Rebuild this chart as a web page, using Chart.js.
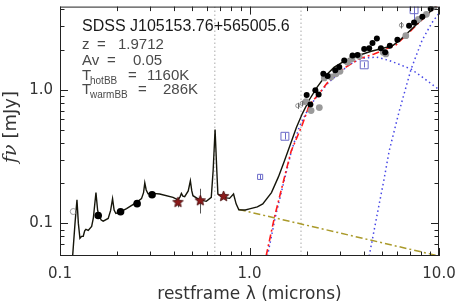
<!DOCTYPE html>
<html>
<head>
<meta charset="utf-8">
<script src="https://cdn.jsdelivr.net/npm/chart.js@4.4.1/dist/chart.umd.min.js"></script>
<style>
  html, body { margin: 0; padding: 0; background: #fff; }
  #wrap { width: 458px; height: 305px; }
</style>
</head>
<body>
<div id="wrap"><canvas id="sed"></canvas></div>
<script>
// ===== values (restframe microns, mJy) =====

// total model (quasar template + power law + hot/warm blackbodies)
const specLam = [0.1166,0.1200,0.1229,0.1250,0.1274,0.1300,0.1326,0.1350,0.1370,0.1409,0.1469,0.1500,0.1548,0.1580,0.1605,0.1650,0.1690,0.1796,0.1850,0.1894,0.1930,0.1971,0.2069,0.2245,0.2534,0.2692,0.2760,0.2802,0.2850,0.2916,0.3098,0.3360,0.3948,0.4194,0.4300,0.4372,0.4450,0.4550,0.4750,0.4875,0.4960,0.5031,0.5454,0.5916,0.6285,0.6430,0.6582,0.6720,0.6811,0.7235,0.7848,0.8238,0.8500,0.8785,0.95,1.0,1.1,1.175,1.306,1.421,1.528,1.644,1.768,1.901,2.069,2.280,2.512,2.802,3.228,3.793,4.387,5.074,5.727,6.285,6.952,7.661,8.647,9.643];
const specFlux = [0.057,0.100,0.150,0.100,0.0774,0.0800,0.0801,0.0880,0.0903,0.0887,0.0950,0.110,0.1705,0.125,0.1147,0.106,0.104,0.1089,0.125,0.1532,0.126,0.1186,0.1213,0.1292,0.1438,0.1532,0.170,0.2012,0.178,0.1668,0.1677,0.1660,0.1566,0.1498,0.158,0.1677,0.160,0.1585,0.175,0.2082,0.175,0.1612,0.1498,0.1463,0.1566,0.250,0.5055,0.250,0.1660,0.1566,0.1540,0.1660,0.140,0.1263,0.126,0.1285,0.133,0.140,0.170,0.223,0.293,0.391,0.523,0.664,0.843,1.053,1.270,1.479,1.668,1.816,1.945,2.047,2.154,2.387,2.735,3.109,3.655,4.263];

// power law (olive dash-dot)
const plawLam = [0.8785, 10.0];
const plawFlux = [0.127, 0.057];

// hot + warm dust (red dash-dot)
const dustLam = [1.224,1.354,1.497,1.658,1.897,2.069,2.320,2.637,3.228,3.793,4.549,5.244,5.917,6.680,7.540,8.510,9.640,10.0];
const dustFlux = [0.057,0.111,0.197,0.347,0.545,0.770,0.930,1.180,1.480,1.706,1.857,2.022,2.166,2.543,3.016,3.575,4.190,4.40];

// hot blackbody (blue dotted)
const hotLam = [1.244,1.371,1.510,1.663,1.833,2.069,2.336,2.637,2.976,3.360,3.933,4.661,5.454,6.387,7.124,8.137,9.880,10.0];
const hotFlux = [0.057,0.1127,0.198,0.347,0.530,0.750,0.940,1.150,1.330,1.550,1.720,1.760,1.660,1.520,1.430,1.250,1.017,1.000];

// warm blackbody (blue dotted)
const warmLam = [4.281,4.718,5.134,5.454,6.158,7.124,8.137,9.188,9.880,10.0];
const warmFlux = [0.057,0.1166,0.2154,0.347,0.687,1.431,2.344,3.190,3.655,3.70];

// photometry
const uvLam = [0.1591,0.2087,0.2552,0.3061];
const uvFlux = [0.1147,0.1221,0.1406,0.164];

const irLam = [2.003,2.095,2.226,2.316,2.452,2.583,2.835,2.976,3.162,3.497,3.715,4.03,4.281,4.456,4.70,4.934,5.197,5.502,6.032,6.952,7.386,8.166,9.04];
const irFlux = [0.913,0.778,0.995,0.923,1.320,1.270,1.399,1.480,1.660,1.807,1.826,2.022,2.047,2.240,2.428,2.047,1.912,2.143,2.374,3.016,3.19,3.532,4.05];

const grayLam = [1.988,2.113,2.336,2.482,2.692,2.860,3.002,3.29,3.472,3.793,5.074,5.244,6.68,7.782,8.576,9.413];
const grayFlux = [0.815,0.699,0.736,1.227,1.248,1.320,1.375,1.612,1.706,1.786,1.912,1.857,2.543,3.374,3.674,4.19];

const starLam = [0.4194,0.5497,0.7297];
const starFlux = [0.1438,0.148,0.1593];
const starLo = [0.132,0.1186,null];
const starHi = [0.1532,0.1817,null];

const boxLam = [1.138,1.538,4.03,7.386];
const boxFlux = [0.223,0.449,1.539,3.98];
const boxLo = [0.214,0.425,1.47,3.03];
const boxHi = [0.232,0.475,1.61,4.2];

const ringLam = [0.1175];
const ringFlux = [0.1227];

const phiLam = [1.796,1.894,6.33];
const phiFlux = [0.761,0.792,3.048];
const phiLo = [0.72,0.75,2.88];
const phiHi = [0.80,0.83,3.22];

// dotted reference lines
const markLam = [0.6563, 1.87];

const xMin = 0.1, xMax = 10;
const yMin = 0.057, yMax = 4.2;

// ===== helpers =====
function pts(lam, flux) {
    return lam.map((x, i) => ({ x: x, y: flux[i] }));
}

function isDecade(v) {
    const l = Math.log10(v);
    return Math.abs(l - Math.round(l)) < 1e-6;
}

function isWholeStep(v) {
    const s = v / Math.pow(10, Math.floor(Math.log10(v) + 1e-9));
    return Math.abs(s - Math.round(s)) < 1e-6;
}

function starImage(r) {
    const c = document.createElement("canvas");
    const s = Math.ceil(r * 2 + 2);
    c.width = c.height = s;
    const g = c.getContext("2d");
    g.beginPath();
    for (let i = 0; i < 10; i++) {
        const rr = i % 2 ? r * 0.45 : r;
        const a = -Math.PI / 2 + i * Math.PI / 5;
        g.lineTo(s / 2 + rr * Math.cos(a), s / 2 + rr * Math.sin(a));
    }
    g.closePath();
    g.fillStyle = "#8b1a1a";
    g.fill();
    g.strokeStyle = "#400808";
    g.lineWidth = 0.8;
    g.stroke();
    return c;
}

function curve(lam, flux, color, width, dash, order) {
    return {
        type: "line",
        data: pts(lam, flux),
        borderColor: color,
        borderWidth: width,
        borderDash: dash,
        pointRadius: 0,
        tension: 0,
        fill: false,
        order: order
    };
}

function dots(lam, flux, opts, order) {
    return Object.assign({
        type: "scatter",
        data: pts(lam, flux),
        pointStyle: "circle",
        borderWidth: 0,
        order: order
    }, opts);
}

const markSets = markLam.map(l => curve([l, l], [yMin, yMax], "#aaaaaa", 1, [1.5, 2.5], 20));

// ===== error bars, drawn through the library's scales =====
const errorBars = {
    id: "errorBars",
    beforeDatasetsDraw(chart) {
        const { ctx, scales: { x, y } } = chart;
        const groups = [
            [starLam, starLo, starHi, "#555555"],
            [boxLam, boxLo, boxHi, "#6a6ac8"],
            [phiLam, phiLo, phiHi, "#666666"]
        ];
        ctx.save();
        ctx.lineWidth = 1;
        groups.forEach(([lam, lo, hi, color]) => {
            ctx.strokeStyle = color;
            lam.forEach((l, i) => {
                if (lo[i] == null) return;
                const px = Math.round(x.getPixelForValue(l)) + 0.5;
                ctx.beginPath();
                ctx.moveTo(px, y.getPixelForValue(lo[i]));
                ctx.lineTo(px, y.getPixelForValue(hi[i]));
                ctx.stroke();
            });
        });
        ctx.restore();
    }
};

// ===== box with inward ticks on all four sides =====
const frame = {
    id: "frame",
    afterDatasetsDraw(chart) {
        const { ctx, chartArea: a, scales: { x, y } } = chart;
        ctx.save();
        ctx.strokeStyle = "#222";
        ctx.lineWidth = 1;
        ctx.strokeRect(a.left + 0.5, a.top + 0.5, a.right - a.left - 1, a.bottom - a.top - 1);
        ctx.beginPath();
        x.ticks.forEach(t => {
            if (!isWholeStep(t.value)) return;
            const px = Math.round(x.getPixelForValue(t.value)) + 0.5;
            const len = isDecade(t.value) ? 8 : 4.5;
            ctx.moveTo(px, a.bottom);
            ctx.lineTo(px, a.bottom - len);
            ctx.moveTo(px, a.top);
            ctx.lineTo(px, a.top + len);
        });
        y.ticks.forEach(t => {
            if (!isWholeStep(t.value)) return;
            const py = Math.round(y.getPixelForValue(t.value)) + 0.5;
            const len = isDecade(t.value) ? 8 : 4.5;
            ctx.moveTo(a.left, py);
            ctx.lineTo(a.left + len, py);
            ctx.moveTo(a.right, py);
            ctx.lineTo(a.right - len, py);
        });
        ctx.stroke();
        ctx.restore();
    },
    afterDraw(chart) {
        const { ctx } = chart;
        ctx.save();
        // y axis title: italic f-nu plus unit
        ctx.translate(16, 127);
        ctx.rotate(-Math.PI / 2);
        ctx.fillStyle = "#333";
        ctx.textBaseline = "alphabetic";
        const f1 = 'italic 19px "DejaVu Serif"';
        const f2 = '18px "DejaVu Sans"';
        ctx.font = f1;
        const w1 = ctx.measureText("fν").width;
        ctx.font = f2;
        const w2 = ctx.measureText(" [mJy]").width;
        let x0 = -(w1 + w2) / 2;
        ctx.font = f1;
        ctx.fillText("fν", x0, 0);
        ctx.font = f2;
        ctx.fillText(" [mJy]", x0 + w1, 0);
        ctx.restore();

        // object annotation
        ctx.save();
        ctx.textBaseline = "alphabetic";
        ctx.fillStyle = "#1a1a1a";
        ctx.font = '16px "Liberation Sans"';
        ctx.fillText("SDSS J105153.76+565005.6", 82, 31);
        ctx.fillStyle = "#4a4a4a";
        ctx.font = '15px "Liberation Sans"';
        ctx.fillText("z", 82, 49);
        ctx.fillText("=", 97, 49);
        ctx.fillText("1.9712", 118, 49);
        ctx.fillText("Av", 82, 65);
        ctx.fillText("=", 107, 65);
        ctx.fillText("0.05", 133, 65);
        ctx.fillText("T", 82, 80);
        ctx.fillText("=", 128, 80);
        ctx.fillText("1160K", 147, 80);
        ctx.fillText("T", 82, 94);
        ctx.fillText("=", 138, 94);
        ctx.fillText("286K", 163, 94);
        ctx.font = '10px "Liberation Sans"';
        ctx.fillText("hotBB", 90, 84);
        ctx.fillText("warmBB", 90, 98);
        ctx.restore();
    }
};

// ===== chart =====
const ctx = document.getElementById("sed").getContext("2d");

new Chart(ctx, {
    type: "scatter",
    data: {
        datasets: [
            dots(phiLam, phiFlux, { pointRadius: 2, backgroundColor: "rgba(0,0,0,0)", borderColor: "#777", borderWidth: 0.8 }, 1),
            dots(ringLam, ringFlux, { pointRadius: 3, backgroundColor: "rgba(0,0,0,0)", borderColor: "#888", borderWidth: 0.8 }, 1),
            { type: "scatter", data: pts(boxLam, boxFlux), pointStyle: "rect", pointRadius: [3.6, 5.6, 5.6, 5.6],
              backgroundColor: "rgba(0,0,0,0)", borderColor: "#6a6ac8", borderWidth: 1, order: 1 },
            { type: "scatter", data: pts(starLam, starFlux), pointStyle: starImage(5.5), order: 1 },
            dots(irLam, irFlux, { pointRadius: 3, backgroundColor: "#000" }, 2),
            dots(uvLam, uvFlux, { pointRadius: 3.8, backgroundColor: "#000" }, 2),
            dots(grayLam, grayFlux, { pointRadius: 3.4, backgroundColor: "#9a9a9a" }, 3),
            curve(specLam, specFlux, "#15150a", 1.4, [], 4),
            curve(dustLam, dustFlux, "#ff1a1a", 1.6, [7, 3, 2, 3], 5),
            curve(hotLam, hotFlux, "#4646e6", 1.5, [1.5, 3], 6),
            curve(warmLam, warmFlux, "#4646e6", 1.5, [1.5, 3], 6),
            curve(plawLam, plawFlux, "#aa9a2a", 1.5, [7, 3, 2, 3], 7),
            ...markSets
        ]
    },
    options: {
        responsive: true,
        maintainAspectRatio: false,
        animation: false,
        devicePixelRatio: 1,
        layout: { padding: { left: 0, right: 19, top: 4, bottom: 0 } },
        plugins: { legend: { display: false }, tooltip: { enabled: false } },
        scales: {
            x: {
                type: "logarithmic",
                min: xMin,
                max: xMax,
                grid: { display: false, drawTicks: false },
                border: { display: false },
                ticks: {
                    autoSkip: false,
                    maxRotation: 0,
                    padding: 9,
                    color: "#333",
                    font: { family: "DejaVu Sans", size: 15 },
                    callback: v => isDecade(v) ? v.toFixed(1) : ""
                },
                title: {
                    display: true,
                    text: "restframe λ (microns)",
                    color: "#333",
                    font: { family: "DejaVu Sans", size: 17 },
                    padding: { top: 0, bottom: 0 }
                },
                afterFit: s => { s.height = 49; s.paddingLeft = 0; s.paddingRight = 0; }
            },
            y: {
                type: "logarithmic",
                min: yMin,
                max: yMax,
                grid: { display: false, drawTicks: false },
                border: { display: false },
                ticks: {
                    autoSkip: false,
                    padding: 7,
                    color: "#333",
                    font: { family: "DejaVu Sans", size: 15 },
                    callback: v => isDecade(v) ? v.toFixed(1) : ""
                },
                afterFit: s => { s.width = 60; s.paddingTop = 0; s.paddingBottom = 0; }
            }
        }
    },
    plugins: [errorBars, frame]
});
</script>
</body>
</html>
